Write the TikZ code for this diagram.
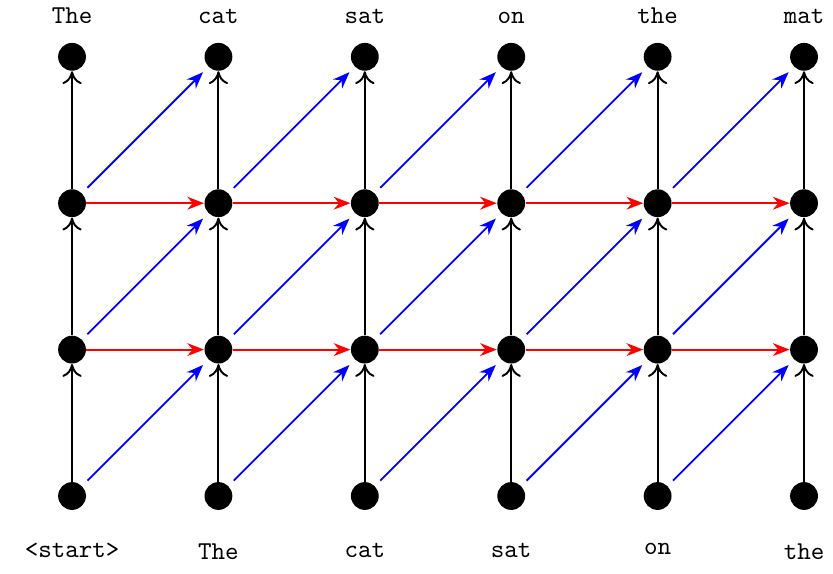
\documentclass[tikz,border=0pt]{standalone}
\usetikzlibrary{arrows.meta}
\begin{document}
\begin{tikzpicture}[
  dot/.style={circle,fill=black,inner sep=0pt,minimum size=0.38cm},
  word/.style={font=\ttfamily,inner sep=0pt},
  up/.style={line width=0.75pt,-{To[length=5pt,width=7.5pt]}},
  rec/.style={line width=0.7pt,red,-{Stealth[length=6.5pt,width=5pt]}},
  diag/.style={line width=0.7pt,blue,-{Stealth[length=6.5pt,width=5pt]},shorten <=0.1cm,shorten >=0.1cm}
]
\useasboundingbox (-0.984,-1.052) rectangle (10.396,6.776);
\foreach \c in {0,...,5}{
  \foreach \r in {0,...,3}{
    \node[dot] (n\c\r) at (2*\c,2*\r) {};
  }
}
% top labels
\foreach \c/\w in {0/The,1/cat,2/sat,3/on,4/the,5/mat}{
  \node[word,anchor=base] (t\c) at (2*\c,6.45) {\w};
}
% bottom labels
\foreach \c/\w in {0/{<start>},1/The,2/cat,3/sat,4/on,5/the}{
  \node[word,anchor=north] (b\c) at (2*\c,-0.64) {\w};
}
% vertical arrows
\foreach \c in {0,...,5}{
  \foreach \r [evaluate=\r as \s using int(\r+1)] in {0,1,2}{
    \draw[up] (n\c\r) -- (n\c\s);
  }
}
% red recurrent arrows
\foreach \c [evaluate=\c as \d using int(\c+1)] in {0,...,4}{
  \foreach \r in {1,2}{
    \draw[rec] (n\c\r) -- (n\d\r);
  }
}
% blue diagonal arrows
\foreach \c [evaluate=\c as \d using int(\c+1)] in {0,...,4}{
  \foreach \r [evaluate=\r as \s using int(\r+1)] in {0,1,2}{
    \draw[diag] (n\c\r) -- (n\d\s);
  }
}
\end{tikzpicture}
\end{document}
